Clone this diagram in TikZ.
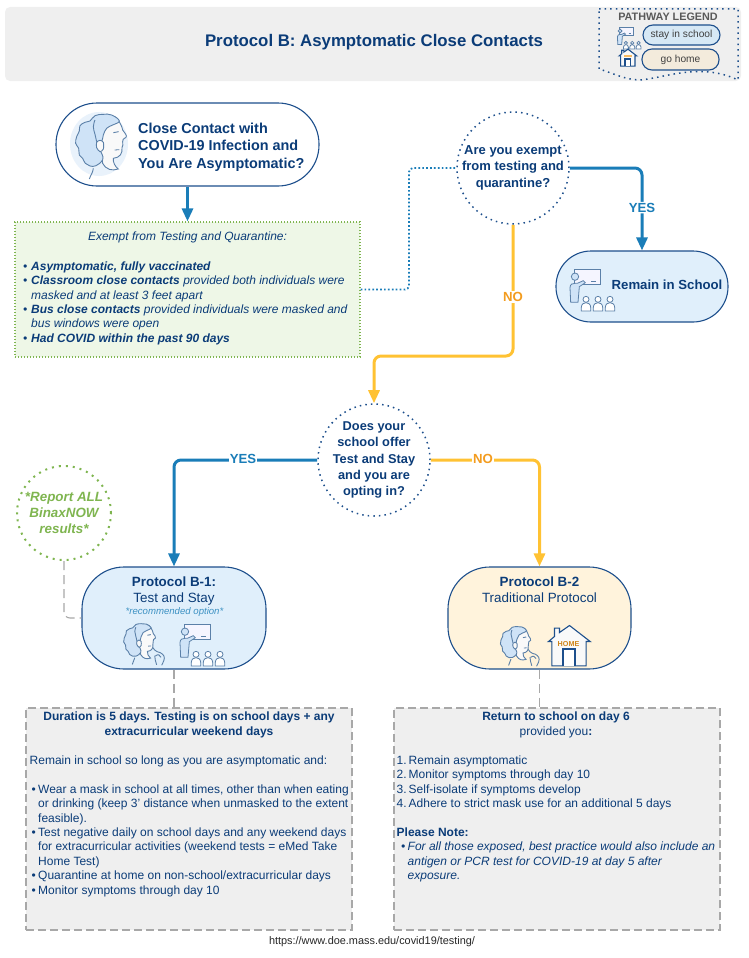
\documentclass[tikz,border=0pt]{standalone}
\usepackage{fontspec}
\setmainfont{Liberation Sans}
\usetikzlibrary{arrows.meta}
\definecolor{navy}{HTML}{0B3C78}
\definecolor{edge}{HTML}{1D4F8C}
\definecolor{flowblue}{HTML}{1A7DB8}
\definecolor{flowyellow}{HTML}{FFC233}
\definecolor{orangelab}{HTML}{F39C1F}
\definecolor{lineblue}{HTML}{5B80A8}
\definecolor{hairblue}{HTML}{CFE3F7}
\definecolor{paleblue}{HTML}{E0EFFB}
\definecolor{palecream}{HTML}{FFF3DC}
\definecolor{palegreen}{HTML}{EEF7E7}
\definecolor{dotgreen}{HTML}{7FB550}
\definecolor{panel}{HTML}{EFEFEF}
\definecolor{dashgray}{HTML}{A8A8A8}
\definecolor{legblue}{HTML}{D6E8F5}
\definecolor{legcream}{HTML}{F3EBDC}
\newcommand{\bodyfs}{\fontsize{12}{14.4}\selectfont}
\newcommand{\bul}{\makebox[8pt][l]{•}}
\newcommand{\ind}{\hspace*{8pt}}
\newcommand{\sbul}{\makebox[6.5pt][l]{•}}
\newcommand{\sind}{\hspace*{6.5pt}}
\newcommand{\numb}[1]{\makebox[12pt][l]{#1}}
\tikzset{
  pill/.style={draw=edge,line width=1.1pt,rounded corners=36pt,inner sep=0pt},
  flowb/.style={draw=flowblue,line width=3pt,rounded corners=7pt,-{Triangle[length=13pt,width=11pt]}},
  flowy/.style={draw=flowyellow,line width=3pt,rounded corners=7pt,-{Triangle[length=13pt,width=11pt]}},
  dotcircle/.style={circle,inner sep=0pt,line width=1.5pt,dash pattern=on 1.5pt off 4.1pt},
  grayline/.style={draw=dashgray,line width=1.1pt,dash pattern=on 9pt off 5pt,rounded corners=6pt},
  infobox/.style={rectangle,fill=panel,draw=dashgray,line width=1.2pt,dash pattern=on 8pt off 4pt,inner sep=0pt},
  txt/.style={text=navy,inner sep=0pt,align=left},
  flowlab/.style={fill=white,inner sep=1pt,font=\bfseries\fontsize{13.2}{15}\selectfont},
  headpic/.pic={
    \begin{scope}[shift={(-180,-150)}]
    \draw[lineblue,line width=.9pt,fill=white!95!gray] (190,100) -- (215,62) .. controls (232,62) and (245,90) .. (248,105) .. controls (255,115) and (262,122) .. (258,127) .. controls (252,133) and (245,132) .. (248,140) .. controls (250,150) and (248,152) .. (246,158) .. controls (248,175) and (240,188) .. (220,190) .. controls (218,200) and (225,215) .. (235,222) .. controls (215,228) and (200,225) .. (188,205) .. controls (186,190) and (185,180) .. (180,165) -- cycle;
    \draw[lineblue,line width=.9pt,fill=hairblue] plot[smooth cycle,tension=.7] coordinates {(185,175)(188,195)(168,212)(150,213)(136,205)(128,190)(118,180)(116,160)(107,145)(110,125)(118,108)(120,92)(135,82)(150,78)(165,62)(190,58)(215,60)(238,78)(218,90)(200,100)(190,120)(185,140)(170,150)};
    \draw[lineblue,line width=.9pt] plot[smooth,tension=.8] coordinates {(165,75)(160,95)(165,118)(170,140)};
    \draw[lineblue,line width=.9pt,fill=white!95!gray] plot[smooth cycle] coordinates {(180,136)(190,142)(190,162)(180,170)(170,158)(170,142)};
    \draw[lineblue,line width=.9pt] (160,220) .. controls (158,235) and (152,240) .. (148,252);
    \draw[lineblue,line width=.9pt] (220,113) -- (236,110);
    \draw[lineblue,line width=.8pt] (224,165) -- (238,164);
    \end{scope}
  },
  handpic/.pic={
    \draw[lineblue,line width=.9pt] (66,22) .. controls (75,40) and (95,45) .. (100,45) .. controls (118,55) and (125,65) .. (118,85) .. controls (115,92) and (112,100) .. (108,106);
    \draw[lineblue,line width=.9pt] (75,60) .. controls (72,75) and (82,88) .. (84,104);
    \draw[lineblue,line width=.9pt] (78,62) .. controls (90,52) and (100,55) .. (105,68);
  },
  teacherpic/.pic={
    \draw[lineblue,line width=.8pt,fill=white!96!blue] (-47,-62) rectangle (30,-17);
    \draw[lineblue,line width=1.2pt] (4,-25) -- (18,-25);
    \draw[lineblue,line width=.8pt,fill=hairblue] (-60,-7) .. controls (-60,-18) and (-52,-20) .. (-45,-20) -- (-38,-20) -- (-20,-28) -- (-14,-22) -- (-32,-10) -- (-36,37) -- (-58,37) -- cycle;
    \draw[lineblue,line width=.8pt,fill=hairblue] (-45,-40) circle[radius=11];
    \foreach \sx in {-12,24,60}{
      \draw[lineblue,line width=.8pt,fill=white] (\sx-14,63) -- (\sx-14,52) .. controls (\sx-14,42) and (\sx-6,38) .. (\sx,38) .. controls (\sx+6,38) and (\sx+14,42) .. (\sx+14,52) -- (\sx+14,63) -- cycle;
      \draw[lineblue,line width=.8pt,fill=white] (\sx,28) circle[radius=9];
    }
  },
  housepic/.pic={
    \draw[edge,line width=1.1pt,fill=white!95!gray] (-63,-15) -- (-45,-30) -- (-45,-55) -- (-30,-55) -- (-30,-42) -- (0,-63) -- (62,-15) -- (50,-15) -- (50,58) -- (-53,58) -- (-53,-15) -- cycle;
    \draw[edge,line width=1.6pt,fill=white] (-20,58) -- (-20,8) -- (17,8) -- (17,58);
  }
}
\begin{document}
\begin{tikzpicture}[x=1pt,y=-1pt]
\useasboundingbox (0,0) rectangle (749,958);
% header
\path[fill=panel,rounded corners=5pt] (5,7) rectangle (741,81);
\node[text=navy,inner sep=0pt,font=\bfseries\fontsize{16.8}{19}\selectfont] (title) at (374,42) {Protocol B: Asymptomatic Close Contacts};
% legend
\draw[edge,line width=1.5pt,dash pattern=on 1.5pt off 4.1pt] (599,9) -- (738,9) -- (738,80) .. controls (700,62) and (665,78) .. (640,80) .. controls (625,80) and (610,72) .. (599,69) -- cycle;
\node[text=black!65,inner sep=0pt,font=\bfseries\fontsize{10.8}{13}\selectfont] (legendtitle) at (668,16.5) {PATHWAY LEGEND};
\node[pill,fill=legblue,minimum width=77pt,minimum height=20pt,rounded corners=10pt,text=black!75,font=\fontsize{10.2}{12}\selectfont] (legstay) at (681.5,35) {stay in school};
\node[pill,fill=legcream,minimum width=77pt,minimum height=21pt,rounded corners=10pt,text=black!75,font=\fontsize{10.2}{12}\selectfont] (leghome) at (680.5,59.5) {go home};
\pic[scale=.176] at (628,38) {teacherpic};
\pic[scale=.14] at (628,58) {housepic};
\path[fill=orangelab!70] (624,55.5) rectangle (632,57);
% start
\node[pill,rounded corners=41pt,fill=white,minimum width=263pt,minimum height=83pt] (start) at (187.5,144.5) {};
\node[txt,anchor=west,font=\bfseries\fontsize{14.4}{17.6}\selectfont] (starttext) at (138,147) {Close Contact with\\COVID-19 Infection and\\You Are Asymptomatic?};
\path[fill=hairblue,opacity=.45] (99,144) ellipse[x radius=29,y radius=32];
\pic[scale=.3333] at (100,145) {headpic};
% green box
\node[rectangle,fill=palegreen,draw=dotgreen,line width=1.2pt,dash pattern=on 1.2pt off 1.8pt,minimum width=345pt,minimum height=135pt,inner sep=0pt] (green) at (187.5,289.5) {};
\node[txt,anchor=north,align=center,font=\itshape\bodyfs] (greenhead) at (187.5,232) {Exempt from Testing and Quarantine:};
\node[txt,anchor=north west,font=\itshape\bodyfs] (greenlist) at (23,261.5) {\bul\textbf{Asymptomatic, fully vaccinated}\\
\bul\textbf{Classroom close contacts} provided both individuals were\\
\ind masked and at least 3 feet apart\\
\bul\textbf{Bus close contacts} provided individuals were masked and\\
\ind bus windows were open\\
\bul\textbf{Had COVID within the past 90 days}};
% decision 1
\node[dotcircle,draw=edge,minimum size=112pt] (exempt) at (513,168) {};
\node[txt,align=center,font=\bfseries\fontsize{13}{16.4}\selectfont] (exempttext) at (513,167.5) {Are you exempt\\from testing and\\quarantine?};
\draw[flowblue,line width=1.8pt,dash pattern=on 1.7pt off 2.2pt,rounded corners=4pt] (green.east) -- (409,289.5) -- (409,168) -- (exempt.west);
\node[pill,fill=paleblue,minimum width=172pt,minimum height=71pt,rounded corners=35pt] (remain) at (642,286.5) {};
\node[txt,anchor=center,font=\bfseries\fontsize{13.2}{15}\selectfont] (remaintext) at (667,285) {Remain in School};
\pic[scale=.3333] at (590,290) {teacherpic};
\draw[flowb] (exempt.east) -| (remain.north) node[flowlab,text=flowblue,pos=.74,name=yes1] {YES};
\draw[flowb] (start.south) -- (green.north);
% decision 2
\node[dotcircle,draw=edge,minimum size=110pt,align=center,text=navy,font=\bfseries\fontsize{12.8}{16.2}\selectfont] (does) at (374,460) {Does your\\school offer\\Test and Stay\\and you are\\opting in?};
\coordinate (elbow) at (374,356);
\draw[flowy] (exempt.south) |- (elbow) -- (does.north);
\node[flowlab,text=orangelab] (no1) at (513,297) {NO};
% protocols
\node[pill,fill=paleblue,minimum width=184pt,minimum height=102pt,rounded corners=42pt] (b1) at (174,618) {};
\node[pill,fill=palecream,minimum width=183pt,minimum height=102pt,rounded corners=42pt] (b2) at (539.5,618) {};
\draw[flowb] (does.west) -| (b1.north);
\node[flowlab,text=flowblue] (yes2) at (243,458.5) {YES};
\draw[flowy] (does.east) -| (b2.north);
\node[flowlab,text=orangelab] (no2) at (483,458.5) {NO};
\node[txt,align=center,font=\fontsize{13.4}{16}\selectfont,anchor=north] (b1text) at (174,577) {\textbf{Protocol B-1:}\\Test and Stay};
\node[inner sep=0pt,text=flowblue!85!white,font=\itshape\fontsize{9.6}{11}\selectfont] (b1note) at (174.5,612) {*recommended option*};
\pic[scale=.21] at (139,643) {headpic};
\pic[scale=.21] at (139,643) {handpic};
\pic[scale=.3333] at (200,645) {teacherpic};
\node[txt,align=center,font=\fontsize{13.4}{16}\selectfont,anchor=north] (b2text) at (539.5,577) {\textbf{Protocol B-2}\\Traditional Protocol};
\pic[scale=.2] at (515,645) {headpic};
\pic[scale=.2] at (515,645) {handpic};
\pic[scale=.3333] at (569.5,646.5) {housepic};
\node[inner sep=0pt,text=orangelab!85!black,font=\bfseries\fontsize{7.2}{9}\selectfont] (hometext) at (568.5,644) {HOME};
% report
\node[dotcircle,draw=dotgreen,line width=2pt,dash pattern=on 2pt off 5pt,minimum size=94pt,align=center,text=dotgreen,font=\bfseries\itshape\fontsize{13.4}{16}\selectfont] (report) at (64,513) {*Report ALL\\BinaxNOW\\results*};
\draw[grayline] (report.south) |- (b1.west);
% boxes
\node[infobox,minimum width=326pt,minimum height=222pt] (box1) at (189,819) {};
\node[infobox,minimum width=326pt,minimum height=222pt] (box2) at (557,819) {};
\draw[grayline] (b1.south) -- (b1.south |- box1.north);
\draw[grayline] (b2.south) -- (b2.south |- box2.north);
\node[txt,anchor=north,align=center,font=\bfseries\bodyfs] (box1head) at (189,712) {Duration is 5 days. Testing is on school days + any\\extracurricular weekend days};
\node[txt,anchor=north west,font=\bodyfs] (box1body) at (29.5,755.5) {Remain in school so long as you are asymptomatic and:\\[14.4pt]
\hspace*{2pt}\sbul Wear a mask in school at all times, other than when eating\\
\hspace*{2pt}\sind or drinking (keep 3' distance when unmasked to the extent\\
\hspace*{2pt}\sind feasible).\\
\hspace*{2pt}\sbul Test negative daily on school days and any weekend days\\
\hspace*{2pt}\sind for extracurricular activities (weekend tests = eMed Take\\
\hspace*{2pt}\sind Home Test)\\
\hspace*{2pt}\sbul Quarantine at home on non-school/extracurricular days\\
\hspace*{2pt}\sbul Monitor symptoms through day 10};
\node[txt,anchor=north,align=center,font=\bodyfs] (box2head) at (556,712) {\textbf{Return to school on day 6}\\provided you\textbf{:}};
\node[txt,anchor=north west,font=\bodyfs] (box2body) at (396.5,755.5) {\numb{1.}Remain asymptomatic\\
\numb{2.}Monitor symptoms through day 10\\
\numb{3.}Self-isolate if symptoms develop\\
\numb{4.}Adhere to strict mask use for an additional 5 days\\[14.4pt]
\textbf{Please Note:}\\
\hspace*{4.5pt}\textit{\sbul For all those exposed, best practice would also include an}\\
\hspace*{4.5pt}\textit{\sind antigen or PCR test for COVID-19 at day 5 after}\\
\hspace*{4.5pt}\textit{\sind exposure.}};
\node[inner sep=0pt,text=black!85,font=\fontsize{10.9}{12}\selectfont] (url) at (372,942) {https://www.doe.mass.edu/covid19/testing/};
\end{tikzpicture}
\end{document}
